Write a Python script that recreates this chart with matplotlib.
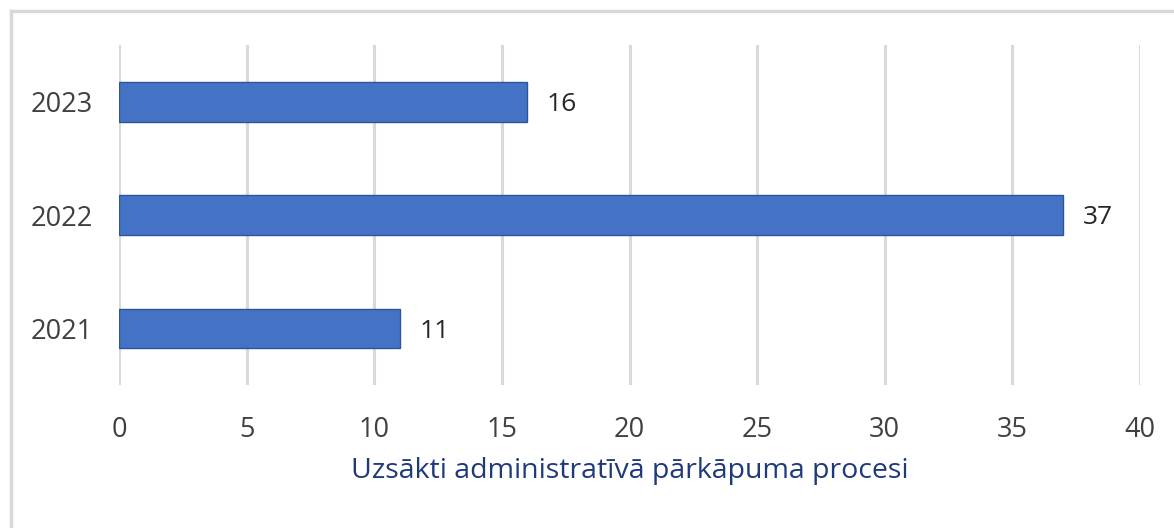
import matplotlib.pyplot as plt
from matplotlib.lines import Line2D

# Data
years = ["2021", "2022", "2023"]
cases = [11, 37, 16]
x_ticks = [0, 5, 10, 15, 20, 25, 30, 35, 40]
x_label = "Uzsākti administratīvā pārkāpuma procesi"

plt.rcParams['font.family'] = ['Open Sans', 'DejaVu Sans']

fig = plt.figure(figsize=(11.74, 5.28), dpi=100)
ax = fig.add_axes([119 / 1174, 143 / 528, 1021 / 1174, 340 / 528])

pos = list(range(len(years)))
ax.barh(pos, cases, height=0.35, color="#4472C4", edgecolor="#2F5597",
        linewidth=1, zorder=3)

for p, v in zip(pos, cases):
    ax.annotate(str(v), (v, p), xytext=(14, 0), textcoords="offset points",
                va="center_baseline", ha="left", fontsize=19, color="#262626")

ax.set_xlim(0, 40)
ax.set_ylim(-0.5, 2.5)
ax.set_xticks(x_ticks)
ax.set_xticklabels([str(t) for t in x_ticks])
ax.set_yticks(pos)
ax.set_yticklabels(years, va="center_baseline")
ax.tick_params(axis="x", length=0, pad=22, labelsize=19.5, labelcolor="#404040")
ax.tick_params(axis="y", length=0, pad=19, labelsize=19.5, labelcolor="#404040")
ax.grid(axis="x", color="#D9D9D9", linewidth=2.2, zorder=0)
ax.set_axisbelow(True)
for s in ax.spines.values():
    s.set_visible(False)

ax.set_xlabel(x_label, fontsize=20.5, color="#1F3A78", labelpad=10)

# chart frame (top and left edges visible)
fig.add_artist(Line2D([11 / 1174, 11 / 1174], [0, 1 - 11 / 528],
                      transform=fig.transFigure, color="#D9D9D9", linewidth=2.5))
fig.add_artist(Line2D([11 / 1174, 1], [1 - 11 / 528, 1 - 11 / 528],
                      transform=fig.transFigure, color="#D9D9D9", linewidth=2.5))

fig.savefig("out.png", dpi=100)
